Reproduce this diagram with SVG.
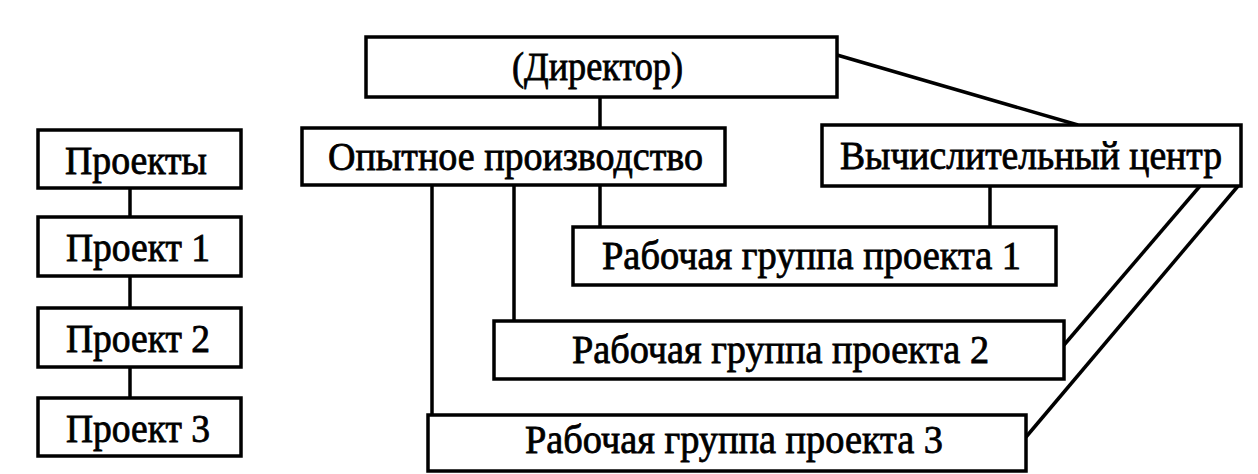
<svg xmlns="http://www.w3.org/2000/svg" width="1258" height="474" viewBox="0 0 1258 474">
<style>
.box{fill:#fff;stroke:#000;stroke-width:3.5}
.lbl{font-family:"Liberation Serif","Times New Roman",serif;font-size:40px;fill:#000;stroke:#000;stroke-width:0.8}
.con line{stroke:#000;stroke-width:3.5;stroke-linecap:butt}
</style>
<rect width="1258" height="474" fill="#fff"/>
<g id="connectors" class="con">
<line x1="130" y1="188" x2="130" y2="217"/>
<line x1="130" y1="276" x2="130" y2="308"/>
<line x1="130" y1="367" x2="130" y2="398"/>
<line x1="600" y1="97" x2="600" y2="128"/>
<line x1="837" y1="55" x2="1078" y2="125"/>
<line x1="432" y1="185" x2="432" y2="415"/>
<line x1="514" y1="185" x2="514" y2="321"/>
<line x1="600" y1="185" x2="600" y2="227"/>
<line x1="990" y1="186" x2="990" y2="227"/>
<line x1="1200" y1="186" x2="1064" y2="345"/>
<line x1="1238" y1="186" x2="1026" y2="437"/>
</g>
<g id="projects">
<rect class="box" x="38" y="130" width="203" height="58"/>
<text class="lbl" x="65" y="174" textLength="142" lengthAdjust="spacingAndGlyphs">Проекты</text>
</g>
<g id="project1">
<rect class="box" x="38" y="217" width="203" height="59"/>
<text class="lbl" x="66" y="261" textLength="144" lengthAdjust="spacingAndGlyphs">Проект 1</text>
</g>
<g id="project2">
<rect class="box" x="38" y="308" width="203" height="59"/>
<text class="lbl" x="66" y="352" textLength="144" lengthAdjust="spacingAndGlyphs">Проект 2</text>
</g>
<g id="project3">
<rect class="box" x="38" y="398" width="203" height="58"/>
<text class="lbl" x="66" y="442" textLength="144" lengthAdjust="spacingAndGlyphs">Проект 3</text>
</g>
<g id="director">
<rect class="box" x="366" y="37" width="471" height="60"/>
<text class="lbl" x="512" y="80" textLength="171" lengthAdjust="spacingAndGlyphs">(Директор)</text>
</g>
<g id="pilot">
<rect class="box" x="302" y="128" width="423" height="57"/>
<text class="lbl" x="328" y="170" textLength="375" lengthAdjust="spacingAndGlyphs">Опытное производство</text>
</g>
<g id="computing">
<rect class="box" x="822" y="125" width="419" height="61"/>
<text class="lbl" x="840" y="169" textLength="382" lengthAdjust="spacingAndGlyphs">Вычислительный центр</text>
</g>
<g id="wg1">
<rect class="box" x="573" y="227" width="483" height="58"/>
<text class="lbl" x="602" y="269" textLength="419" lengthAdjust="spacingAndGlyphs">Рабочая группа проекта 1</text>
</g>
<g id="wg2">
<rect class="box" x="494" y="321" width="570" height="58"/>
<text class="lbl" x="572" y="363" textLength="417" lengthAdjust="spacingAndGlyphs">Рабочая группа проекта 2</text>
</g>
<g id="wg3">
<rect class="box" x="428" y="415" width="598" height="56"/>
<text class="lbl" x="525" y="453" textLength="418" lengthAdjust="spacingAndGlyphs">Рабочая группа проекта 3</text>
</g>
</svg>
